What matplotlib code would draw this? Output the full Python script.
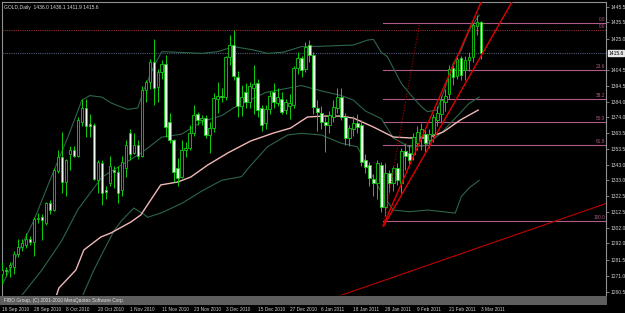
import matplotlib
matplotlib.use('Agg')
import matplotlib.pyplot as plt
from matplotlib.patches import Rectangle

# ---- daily GOLD bars, 16 Sep 2010 .. 3 Mar 2011 (one per weekday) ----
opens = [1272, 1275, 1277, 1277, 1285, 1290, 1291, 1295, 1293, 1308,
         1309, 1305, 1318, 1314, 1339, 1348, 1332, 1350, 1353, 1349,
         1371, 1380, 1369.5, 1369, 1333.5, 1344.5, 1326.5, 1331, 1339.5, 1338.5,
         1327, 1341, 1363.5, 1351, 1356, 1349, 1391.6, 1397, 1410, 1393.5,
         1403.5, 1408.3, 1371, 1359.2, 1340.8, 1335.4, 1352.7, 1354, 1363.5, 1375.8,
         1372.1, 1373.7, 1362.4, 1366.7, 1386, 1388, 1387, 1413, 1421, 1400,
         1381, 1390, 1384, 1393, 1395.9, 1379.7, 1370, 1379, 1390, 1383,
         1386, 1378.6, 1381, 1382, 1405.7, 1412.2, 1405, 1420.8, 1414.3, 1379.7,
         1376.5, 1371.1, 1368.9, 1374.3, 1379.7, 1387.3, 1374, 1360.2, 1366, 1370,
         1368.9, 1346.2, 1342.9, 1334, 1331, 1343, 1316, 1337.5, 1331, 1341,
         1331, 1352, 1351, 1350, 1357, 1362, 1363, 1359, 1363, 1372,
         1376, 1384, 1389, 1405.7, 1401, 1412.2, 1404.6, 1411, 1413, 1433,
         1436.0]
highs = [1280, 1277, 1280, 1287, 1295, 1295, 1299, 1297, 1309, 1312,
         1311, 1319, 1320, 1341, 1353, 1364.6, 1347, 1355, 1355, 1374,
         1386, 1385.6, 1376, 1370, 1346, 1346, 1329, 1349, 1342, 1342,
         1349, 1359, 1366, 1364, 1359, 1394, 1398, 1411.5, 1424.7, 1405,
         1411, 1414.3, 1376.5, 1360, 1347.3, 1359.2, 1358, 1369, 1382, 1377.1,
         1375.5, 1375.4, 1371, 1389.5, 1397, 1393, 1414, 1427, 1430.6, 1404,
         1395, 1396, 1397, 1407.8, 1399, 1382, 1382, 1391, 1396, 1393,
         1390, 1386, 1389, 1407, 1416, 1414, 1423, 1424, 1416, 1385,
         1381, 1374, 1378, 1385, 1392.7, 1392.7, 1377, 1369, 1375, 1376,
         1372, 1350, 1345, 1337, 1346, 1345, 1344, 1340, 1342, 1344,
         1354, 1357, 1356, 1364, 1368, 1370, 1367, 1366, 1376, 1381,
         1388, 1392, 1408, 1409, 1415, 1414, 1414, 1416, 1435, 1440,
         1436.1]
lows = [1266, 1271, 1270, 1272, 1283, 1287, 1289, 1291, 1284, 1305,
        1294, 1304, 1311, 1313, 1338, 1325, 1323, 1340, 1348, 1348,
        1368, 1361, 1361, 1333, 1325, 1317, 1321, 1329, 1328, 1318,
        1323, 1335, 1346, 1350, 1347, 1348, 1384, 1392, 1382, 1384,
        1399, 1361.3, 1357, 1332, 1329, 1334.3, 1348.3, 1352.7, 1362, 1369,
        1369, 1360.2, 1350.5, 1364.6, 1377, 1384, 1385, 1408, 1398, 1374.3,
        1375, 1380, 1380, 1376, 1374, 1365, 1366, 1376, 1380, 1381,
        1376, 1376, 1373, 1380, 1402, 1400, 1403, 1410, 1376, 1365,
        1366, 1351.6, 1364, 1371, 1377, 1372, 1356, 1355, 1362, 1364,
        1342, 1338, 1329, 1323, 1321, 1312.6, 1310, 1325, 1326, 1330,
        1325, 1340, 1342, 1346, 1353, 1353, 1351, 1354, 1358, 1368,
        1371, 1378, 1386, 1395, 1399, 1398, 1398, 1404, 1410, 1427,
        1411.9]
closes = [1275, 1274, 1278, 1285, 1290, 1292, 1295, 1293, 1308, 1308.5,
          1307, 1318, 1314, 1340, 1348, 1332, 1346, 1353, 1349, 1372,
          1380, 1368, 1368.5, 1334, 1345, 1324.5, 1325.5, 1342, 1338.5, 1324.5,
          1345, 1356, 1350, 1356, 1348.5, 1391.6, 1397, 1410, 1392.7, 1403.5,
          1408.3, 1367.8, 1359.2, 1338.6, 1334.3, 1352.7, 1353.8, 1363.5, 1375.4, 1372.1,
          1373.5, 1362.4, 1366.7, 1386.2, 1388, 1387, 1413, 1421, 1401, 1381,
          1387, 1384, 1394, 1395.5, 1378.6, 1368.9, 1379, 1388, 1384, 1387,
          1377.6, 1384, 1383, 1405.7, 1412.2, 1404.6, 1419.7, 1414.3, 1380.8, 1377.6,
          1371.1, 1368.9, 1375.4, 1380.8, 1387.3, 1374.3, 1360.2, 1366.7, 1370, 1367.8,
          1345.1, 1341.8, 1334.3, 1331.5, 1344, 1316, 1337.5, 1331, 1341, 1333,
          1352, 1348.5, 1346, 1361, 1364.6, 1366, 1357, 1363, 1374, 1377,
          1385, 1388, 1405, 1400, 1412, 1401.4, 1411, 1413, 1433.8, 1436,
          1415.6]

date_labels = ['16 Sep 2010', '28 Sep 2010', '8 Oct 2010', '20 Oct 2010', '1 Nov 2010',
               '11 Nov 2010', '23 Nov 2010', '3 Dec 2010', '15 Dec 2010', '27 Dec 2010',
               '6 Jan 2011', '18 Jan 2011', '28 Jan 2011', '9 Feb 2011', '21 Feb 2011',
               '3 Mar 2011']
date_bars = [0, 8, 16, 24, 32, 40, 48, 56, 64, 72, 80, 88, 96, 104, 112, 120]

price_ticks = [1445.5, 1435.5, 1425.0, 1404.5, 1394.5, 1384.0, 1374.0, 1363.5, 1353.5,
               1343.0, 1333.0, 1322.5, 1312.5, 1302.0, 1292.0, 1281.5, 1271.0, 1260.5]

# ---- indicators (bar index, price) ----
bb_upper_x = [0, 8, 12, 16.5, 20, 22, 25, 27.5, 31.5, 34, 35.5, 38, 40, 45, 50, 54, 58,
              63, 66.5, 70.5, 75, 77.5, 88, 91.5, 93, 95, 96.5, 100, 102, 105, 106.5,
              109, 110.5, 113, 115, 117, 119.5]
bb_upper = [1265, 1307, 1333, 1361, 1385, 1388, 1387, 1383, 1379, 1380, 1391.6, 1406.8,
            1416.5, 1416, 1415.4, 1416.5, 1419.8, 1417.6, 1415.4, 1416.2, 1419.8, 1419.8,
            1420.8, 1424, 1424.5, 1416, 1413.3, 1395.9, 1389.5, 1380.8, 1377.6, 1378.6,
            1389.5, 1408.9, 1417.6, 1430.6, 1440.3]
bb_mid_x = [5, 10, 15, 19, 25, 30, 35, 40, 45, 50, 55, 58, 62, 66, 70, 75, 80, 85, 88,
            91, 95, 98, 102, 106, 110, 113, 117, 119.5]
bb_mid = [1258.5, 1274.8, 1294, 1314, 1335, 1343, 1351, 1361, 1363, 1371, 1375, 1380,
          1385, 1390, 1392, 1394.5, 1391, 1388, 1385, 1378, 1373, 1360.5, 1354.6, 1355.5,
          1363.7, 1372, 1383, 1387]
bb_lower_x = [20.25, 23, 25, 28, 30, 33, 35.5, 36.5, 40, 45, 50, 55, 60, 62, 66.5, 71.5,
              75, 80, 85, 89, 91.5, 95, 98, 102, 106.5, 110.5, 113.5, 115, 117, 119.5]
bb_lower = [1258.5, 1274.8, 1285, 1300, 1307, 1315, 1311, 1309, 1312, 1318, 1326, 1333,
            1335.4, 1341.9, 1354.8, 1362.4, 1363.5, 1362.4, 1357, 1354.8, 1342, 1325,
            1313.7, 1312.6, 1313.7, 1312.6, 1311.7, 1322.4, 1328.1, 1333]
ma_x = [13.5, 14.25, 18.5, 20.5, 24.75, 27.25, 32.25, 34.75, 39.75, 44, 47.25, 51.5,
        56.5, 62.25, 68, 72.25, 76.5, 80.5, 84.75, 88, 93, 98, 102.25, 106.5, 110.5,
        114.75, 119.25]
ma_slow = [1257.2, 1263.1, 1274.8, 1287.8, 1296.2, 1298.8, 1305.9, 1310.5, 1330,
           1331.9, 1335.1, 1342.9, 1350.7, 1358.5, 1363.7, 1366.9, 1374.1, 1374.7,
           1374.7, 1373.4, 1367.6, 1361.1, 1360.5, 1360.5, 1364.4, 1372.1, 1378.6]

# ---- objects drawn on the chart ----
fib_names = ['0.0', '23.6', '38.2', '50.0', '61.8', '100.0']
fib_prices = [1434.9, 1404.7, 1386.0, 1370.9, 1355.7, 1306.8]
fib_start = 95.5
hline_price = 1430.6
bid = 1415.6
chan_a = ([95.4, 122.0], [1303.4, 1460.6])
chan_b = ([95.6, 130.0], [1303.4, 1459.2])
dot_line = ([95.5, 104.5], [1303.4, 1433.8])
long_line = ([70.0, 160.0], [1245.0, 1325.8])

W, H = 625, 313
fig = plt.figure(figsize=(W / 100, H / 100), dpi=100, facecolor='black')
ax = fig.add_axes([2 / W, 1 - 295 / H, 604 / W, 293 / H])
ax.set_facecolor('black')
ax.set_xlim(0.25, 151.25)
ax.set_ylim(1258.56, 1448.74)

green = '#10d010'
band_col = '#2c6648'

# bands and slow average
ax.plot(bb_upper_x, bb_upper, color=band_col, lw=0.8, zorder=2)
ax.plot(bb_mid_x, bb_mid, color=band_col, lw=0.8, zorder=2)
ax.plot(bb_lower_x, bb_lower, color=band_col, lw=0.8, zorder=2)
ax.plot(ma_x, ma_slow, color='#f0b8b8', lw=1.0, zorder=2)

# candles
idx = list(range(len(closes)))
ax.vlines(idx, lows, highs, color=green, lw=0.7, zorder=3)
for i in idx:
    o, c = opens[i], closes[i]
    bottom = min(o, c)
    h = max(abs(c - o), 0.4)
    face = 'black' if c >= o else '#f4fff4'
    ax.bar(i, h, bottom=bottom, width=0.62, color=face, edgecolor=green,
           linewidth=0.6, zorder=4)

# fibonacci levels
for name, p in zip(fib_names, fib_prices):
    ax.plot([fib_start, 152], [p, p], color='#b05a86', lw=0.8, zorder=1)
    ax.text(151.0, p + 0.7, name, color='#b05a86', fontsize=3.4, ha='right', va='bottom',
            family='Liberation Sans')
ax.axhline(hline_price, color='#9a2a2a', lw=0.8, ls=(0, (1, 1)), zorder=1)
ax.text(151.0, hline_price + 0.7, '0.0', color='#b05a86', fontsize=3.4, ha='right',
        va='bottom', family='Liberation Sans')
ax.axhline(bid, color='#4c5c7c', lw=0.8, ls=(0, (1, 1)), zorder=1)

# trend lines
ax.plot(*chan_a, color='#e00000', lw=1.0, zorder=5)
ax.plot(*chan_b, color='#e00000', lw=1.0, zorder=5)
ax.plot(*dot_line, color='#b00000', lw=0.8, ls=(0, (1, 1.5)), zorder=5)
ax.plot(*long_line, color='#c00000', lw=0.8, zorder=5)

# axes look
for s in ax.spines.values():
    s.set_color('#909090')
    s.set_linewidth(0.8)
ax.spines['bottom'].set_visible(False)
ax.yaxis.tick_right()
ax.set_yticks(price_ticks)
ax.set_yticklabels(['%.1f' % v for v in price_ticks])
ax.tick_params(axis='y', colors='#909090', labelcolor='#d0d0d0', length=2, width=0.6,
               labelsize=3.6, pad=1.2)
for lab in ax.get_yticklabels():
    lab.set_family('Liberation Sans')
ax.set_xticks(date_bars)
ax.set_xticklabels(date_labels)
ax.tick_params(axis='x', colors='#909090', labelcolor='#d0d0d0', length=0, labelsize=3.4,
               pad=8.5)
for lab in ax.get_xticklabels():
    lab.set_ha('left')
    lab.set_family('Liberation Sans')

# bid price box on the scale
ax.text(1.004, bid, '%.1f' % bid, transform=ax.get_yaxis_transform(), fontsize=3.6,
        color='black', va='center', ha='left', family='Liberation Sans',
        bbox=dict(boxstyle='square,pad=0.15', fc='#e8e8e8', ec='#e8e8e8'))

# header and copyright strip
fig.text(4 / W, 1 - 7 / H, 'GOLD,Daily  1436.0 1436.1 1411.9 1415.6', fontsize=3.6,
         color='#d8d8d8', va='center', family='Liberation Sans')
fig.patches.append(Rectangle((0, 1 - 305 / H), 607 / W, 9.5 / H, transform=fig.transFigure,
                             fc='#5e5e5e', ec='none'))
fig.text(4 / W, 1 - 300.5 / H, 'FIBO Group, (C) 2001-2010 MetaQuotes Software Corp.',
         fontsize=3.4, color='#e0e0e0', va='center', family='Liberation Sans')

fig.savefig('out.png', dpi=100, facecolor='black')
